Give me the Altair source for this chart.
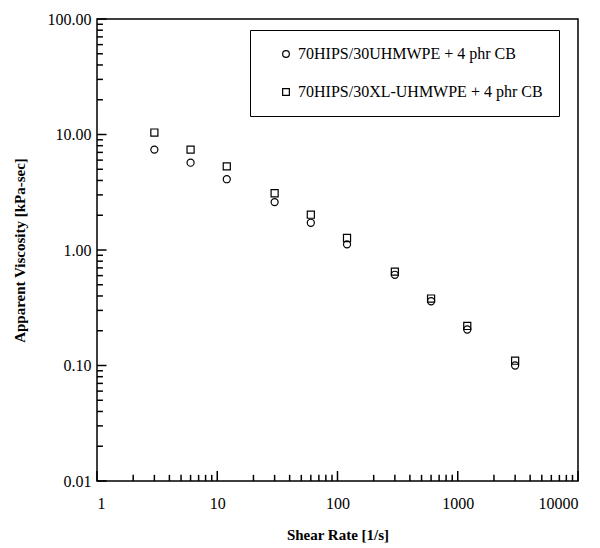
import altair as alt
import pandas as pd

# ---- data ----
shear_rate = [3, 6, 12, 30, 60, 120, 300, 600, 1200, 3000]
visc_uhmwpe = [7.4, 5.7, 4.1, 2.6, 1.72, 1.12, 0.61, 0.36, 0.205, 0.100]
visc_xl = [10.4, 7.4, 5.3, 3.1, 2.02, 1.27, 0.65, 0.38, 0.220, 0.110]
series_names = ["70HIPS/30UHMWPE + 4 phr CB", "70HIPS/30XL-UHMWPE + 4 phr CB"]
series_shapes = ["circle", "square"]

x_major = [1, 10, 100, 1000, 10000]
y_major = [0.01, 0.1, 1, 10, 100]
minor_mult = [2, 3, 4, 5, 6, 7, 8, 9]

FONT = "Liberation Serif"
PAD = "\u00a0" * 3

points = pd.DataFrame({
    "rate": shear_rate * 2,
    "visc": visc_uhmwpe + visc_xl,
    "series": [series_names[0]] * len(shear_rate) + [series_names[1]] * len(shear_rate),
})

xs = alt.Scale(type="log", domain=[1, 10000], nice=False)
ys = alt.Scale(type="log", domain=[0.01, 100], nice=False)

# inward ticks on the left axis
ytick_rows = []
for d in y_major[:-1]:
    for m in minor_mult:
        ytick_rows.append({"ty": d * m, "tx": 1, "tx2": 1.12})
for d in y_major:
    ytick_rows.append({"ty": d, "tx": 1, "tx2": 1.2})
yticks = pd.DataFrame(ytick_rows)

# inward ticks on the bottom axis
xtick_rows = []
for d in x_major[:-1]:
    for m in minor_mult:
        xtick_rows.append({"tx": d * m, "ty": 0.01, "ty2": 0.0113})
for d in x_major:
    xtick_rows.append({"tx": d, "ty": 0.01, "ty2": 0.0122})
xticks = pd.DataFrame(xtick_rows)

x_axis = alt.Axis(values=x_major, format="d", title="Shear Rate [1/s]",
                  labelPadding=14, titlePadding=16)
y_axis = alt.Axis(values=y_major, format=".2f", title="Apparent Viscosity [kPa-sec]",
                  labelPadding=6, titlePadding=20)

pts = alt.Chart(points).mark_point(filled=False, color="black", strokeWidth=1.2, size=50, opacity=1).encode(
    x=alt.X("rate:Q", scale=xs, axis=x_axis),
    y=alt.Y("visc:Q", scale=ys, axis=y_axis),
    shape=alt.Shape("series:N",
                    scale=alt.Scale(domain=series_names, range=series_shapes),
                    legend=alt.Legend(orient="none", legendX=153, legendY=11, title=None,
                                      strokeColor="black", fillColor="white", padding=16,
                                      rowPadding=22, labelFontSize=16, labelFont=FONT,
                                      labelColor="black", symbolSize=45, symbolOffset=12,
                                      symbolStrokeColor="black", symbolStrokeWidth=1.2,
                                      labelLimit=500,
                                      labelExpr="datum.label + '" + PAD + "'")),
)

yt = alt.Chart(yticks).mark_rule(color="black", strokeWidth=1.5, opacity=1).encode(
    x=alt.X("tx:Q", scale=xs, axis=x_axis),
    x2=alt.X2("tx2:Q"),
    y=alt.Y("ty:Q", scale=ys, axis=y_axis),
)
xt = alt.Chart(xticks).mark_rule(color="black", strokeWidth=1.5, opacity=1).encode(
    x=alt.X("tx:Q", scale=xs, axis=x_axis),
    y=alt.Y("ty:Q", scale=ys, axis=y_axis),
    y2=alt.Y2("ty2:Q"),
)

chart = alt.layer(pts, yt, xt).properties(
    width=481, height=462,
    padding={"left": 89, "top": 11, "right": 12, "bottom": 64},
    autosize="none",
).configure_view(
    stroke="black", strokeWidth=1.5
).configure_axis(
    domain=False, ticks=False, grid=False,
    labelFont=FONT, labelFontSize=16, labelColor="black",
    titleFont=FONT, titleFontSize=15, titleFontWeight="bold", titleColor="black",
)

chart.save("out.html", embed_options={"renderer": "svg", "actions": False})
